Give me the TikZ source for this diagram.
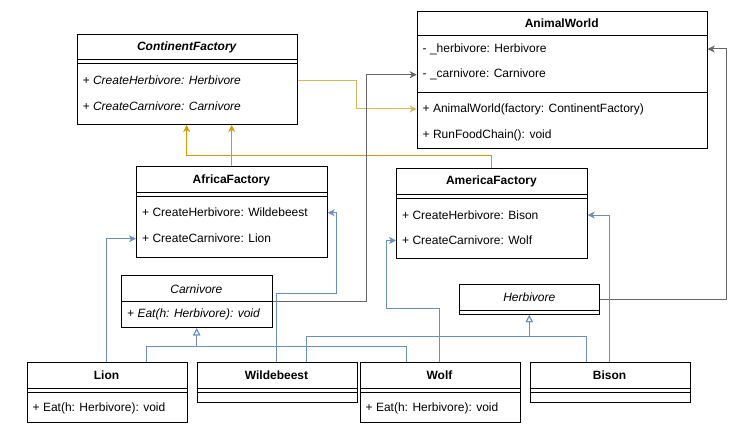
\documentclass[tikz,border=0pt]{standalone}
\usepackage{fontspec}
\setmainfont{Liberation Sans}
\usetikzlibrary{arrows.meta}
\definecolor{cblue}{HTML}{6C8EBF}
\definecolor{cdy}{HTML}{D79B00}
\definecolor{cly}{HTML}{D6B656}
\definecolor{cgray}{HTML}{666666}
\begin{document}
\begin{tikzpicture}[x=1pt,y=-1pt]
\tikzset{
  box/.style={draw, line width=1pt, inner sep=0, anchor=north west},
  lbl/.style={anchor=west, inner sep=0, font=\fontsize{12}{14}\selectfont},
  ttl/.style={inner sep=0, font=\fontsize{12}{14}\selectfont\bfseries},
  div/.style={line width=1pt},
  conn/.style={line width=1pt},
  assoc/.style={conn, -{Stealth[length=7pt,width=7pt,inset=2pt]}},
  inherit/.style={conn, -{Triangle[open,length=7pt,width=7pt,fill=white]}},
}
\useasboundingbox (0,0) rectangle (753,436);
\fill[white] (0,0) rectangle (753,436);

% ContinentFactory
\node[box, minimum width=220pt, minimum height=89.7pt] (cf) at (76.7,34.3) {};
\draw[div] (cf.west |- 0,60) -- (cf.east |- 0,60);
\draw[div] (cf.west |- 0,64) -- (cf.east |- 0,64);
\node[ttl, font=\fontsize{12}{14}\selectfont\bfseries\itshape] (cft) at (186.7,47.5) {ContinentFactory};
\node[lbl, font=\fontsize{12}{14}\selectfont\itshape] (cfm1) at (82.5,80.5) {+ CreateHerbivore: Herbivore};
\node[lbl, font=\fontsize{12}{14}\selectfont\itshape] (cfm2) at (82.5,106.5) {+ CreateCarnivore: Carnivore};

% AnimalWorld
\node[box, minimum width=290pt, minimum height=137.3pt] (aw) at (416.7,10.7) {};
\draw[div] (aw.west |- 0,36) -- (aw.east |- 0,36);
\draw[div] (aw.west |- 0,92.3) -- (aw.east |- 0,92.3);
\node[ttl] (awt) at (561.7,23.5) {AnimalWorld};
\node[lbl] (awa1) at (422.5,49) {- \_herbivore: Herbivore};
\node[lbl] (awa2) at (422.5,74.7) {- \_carnivore: Carnivore};
\node[lbl] (awm1) at (422.5,109) {+ AnimalWorld(factory: ContinentFactory)};
\node[lbl] (awm2) at (422.5,135) {+ RunFoodChain(): void};

% AfricaFactory
\node[box, minimum width=190.7pt, minimum height=90.7pt] (afc) at (136,166) {};
\draw[div] (afc.west |- 0,192.7) -- (afc.east |- 0,192.7);
\draw[div] (afc.west |- 0,196.7) -- (afc.east |- 0,196.7);
\node[ttl] (afct) at (231.4,180) {AfricaFactory};
\node[lbl] (afm1) at (142,212.7) {+ CreateHerbivore: Wildebeest};
\node[lbl] (afm2) at (142,238.7) {+ CreateCarnivore: Lion};

% AmericaFactory
\node[box, minimum width=190.7pt, minimum height=90pt] (amf) at (396,168.3) {};
\draw[div] (amf.west |- 0,194.3) -- (amf.east |- 0,194.3);
\draw[div] (amf.west |- 0,198.5) -- (amf.east |- 0,198.5);
\node[ttl] (amft) at (491.4,181.5) {AmericaFactory};
\node[lbl] (amm1) at (402,215) {+ CreateHerbivore: Bison};
\node[lbl] (amm2) at (402,240.5) {+ CreateCarnivore: Wolf};

% Carnivore
\node[box, minimum width=150.7pt, minimum height=52.3pt] (carn) at (121,275) {};
\draw[div] (carn.west |- 0,301.7) -- (carn.east |- 0,301.7);
\node[inner sep=0, font=\fontsize{12}{14}\selectfont\itshape] (carnt) at (196.4,289) {Carnivore};
\node[lbl, font=\fontsize{12}{14}\selectfont\itshape] (carnm) at (127,314) {+ Eat(h: Herbivore): void};

% Herbivore
\node[box, minimum width=140pt, minimum height=29.7pt] (herb) at (459.3,284.3) {};
\draw[div] (herb.west |- 0,310.7) -- (herb.east |- 0,310.7);
\node[inner sep=0, font=\fontsize{12}{14}\selectfont\itshape] (herbt) at (529.3,297.7) {Herbivore};

% Lion
\node[box, minimum width=160pt, minimum height=60pt] (lion) at (26.5,362.3) {};
\draw[div] (lion.west |- 0,388.3) -- (lion.east |- 0,388.3);
\draw[div] (lion.west |- 0,392.3) -- (lion.east |- 0,392.3);
\node[ttl] (liont) at (106.5,375.7) {Lion};
\node[lbl] (lionm) at (32.5,408.3) {+ Eat(h: Herbivore): void};

% Wildebeest
\node[box, minimum width=160pt, minimum height=40pt] (wb) at (196.5,362.3) {};
\draw[div] (wb.west |- 0,388.3) -- (wb.east |- 0,388.3);
\draw[div] (wb.west |- 0,392.3) -- (wb.east |- 0,392.3);
\node[ttl] (wbt) at (276.5,375.7) {Wildebeest};

% Wolf
\node[box, minimum width=160pt, minimum height=60pt] (wolf) at (359.5,362.3) {};
\draw[div] (wolf.west |- 0,388.3) -- (wolf.east |- 0,388.3);
\draw[div] (wolf.west |- 0,392.3) -- (wolf.east |- 0,392.3);
\node[ttl] (wolft) at (439.5,375.7) {Wolf};
\node[lbl] (wolfm) at (365.5,408.3) {+ Eat(h: Herbivore): void};

% Bison
\node[box, minimum width=160pt, minimum height=40pt] (bison) at (529.5,362.3) {};
\draw[div] (bison.west |- 0,388.3) -- (bison.east |- 0,388.3);
\draw[div] (bison.west |- 0,392.3) -- (bison.east |- 0,392.3);
\node[ttl] (bisont) at (609.5,375.7) {Bison};

% ---- connectors ----
% ContinentFactory -> AnimalWorld constructor
\draw[assoc, cly] (cf.east |- cfm1.west) -| (356,0 |- awm1.west) -- (aw.west |- awm1.west);
% factories inherit ContinentFactory
\draw[assoc, cdy] (afc.north -| 231.7,0) -- (cf.south -| 231.7,0);
\draw[assoc, cdy] (amf.north -| 491.7,0) |- (186.7,155.7) -- (cf.south -| 186.7,0);
% Carnivore -> _carnivore
\draw[assoc, cgray] (carn.east |- 0,301) -| (366.7,0 |- awa2.west) -- (aw.west |- awa2.west);
% Herbivore -> _herbivore
\draw[assoc, cgray] (herb.east |- 0,299.3) -| (726.7,0 |- awa1.west) -- (aw.east |- awa1.west);
% Lion -> AfricaFactory.CreateCarnivore
\draw[assoc, cblue] (lion.north -| 106.7,0) |- (afc.west |- afm2.west);
% Wildebeest -> AfricaFactory.CreateHerbivore
\draw[assoc, cblue] (wb.north -| 276.7,0) |- (336.7,293.3) |- (afc.east |- afm1.west);
% Wolf -> AmericaFactory.CreateCarnivore
\draw[assoc, cblue] (wolf.north -| 439.3,0) |- (386,308.3) |- (amf.west |- amm2.west);
% Bison -> AmericaFactory.CreateHerbivore
\draw[assoc, cblue] (bison.north -| 609.3,0) |- (amf.east |- amm1.west);
% inheritance Carnivore
\draw[inherit, cblue] (lion.north -| 146.7,0) |- (196.7,346.7) -- (carn.south -| 196.7,0);
\draw[inherit, cblue] (wolf.north -| 406.7,0) |- (196.7,346.7) -- (carn.south -| 196.7,0);
% inheritance Herbivore
\draw[inherit, cblue] (wb.north -| 306.7,0) |- (529.3,336) -- (herb.south -| 529.3,0);
\draw[inherit, cblue] (bison.north -| 586.7,0) |- (529.3,336) -- (herb.south -| 529.3,0);
\end{tikzpicture}
\end{document}
